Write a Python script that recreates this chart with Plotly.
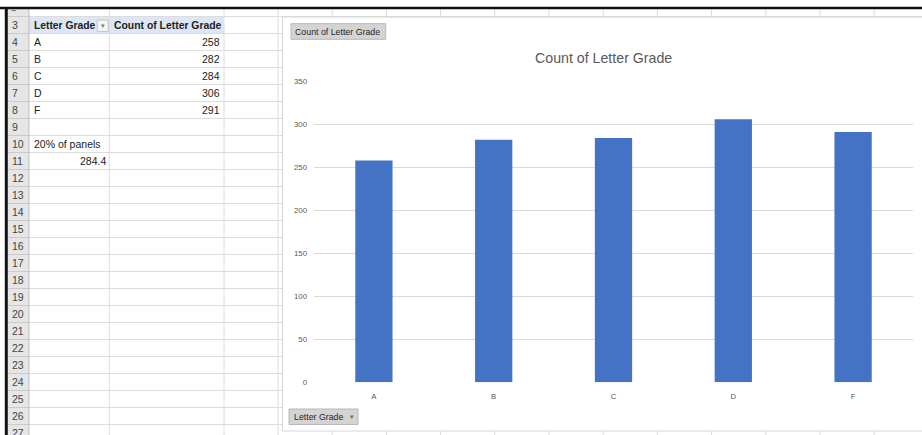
import plotly.graph_objects as go

# ---- data ----
grades = ["A", "B", "C", "D", "F"]
counts = [258, 282, 284, 306, 291]
header_labels = ["Letter Grade", "Count of Letter Grade"]
note_label = "20% of panels"
note_value = "284.4"
y_ticks = [0, 50, 100, 150, 200, 250, 300, 350]
row_numbers = list(range(3, 28))
chart_title = "Count of Letter Grade"
value_button = "Count of Letter Grade"
axis_button = "Letter Grade"

W, H = 922, 435
FONT = "Liberation Sans, Arial, sans-serif"


def X(px):
    return px / W


def Y(py):
    return 1 - py / H


def row_center(n):
    return 25 + (n - 3) * 17


shapes = []
annotations = []


def rect(x0, y0, x1, y1, fill, line=None, lw=1, layer="below"):
    shapes.append(dict(type="rect", xref="paper", yref="paper",
                       x0=X(x0), x1=X(x1), y0=Y(y1), y1=Y(y0),
                       fillcolor=fill, layer=layer,
                       line=dict(color=line or fill, width=lw if line else 0)))


def line(x0, y0, x1, y1, color, lw=1, layer="below"):
    shapes.append(dict(type="line", xref="paper", yref="paper",
                       x0=X(x0), x1=X(x1), y0=Y(y0), y1=Y(y1), layer=layer,
                       line=dict(color=color, width=lw)))


def text(s, x, y, anchor="left", size=10.5, color="#222222"):
    annotations.append(dict(text=s, x=X(x), y=Y(y), xref="paper", yref="paper",
                            xanchor=anchor, yanchor="middle", showarrow=False,
                            font=dict(family=FONT, size=size, color=color)))


# ---- spreadsheet grid ----
GRID = "#dcdcdc"
col_lines = [109.3, 224, 278] + [278 + 54.2 * k for k in range(1, 12)]
# row header background
rect(8, 9, 29, 440, "#e6e6e6")
# pivot header row background
rect(29, 16.5, 224, 33.5, "#dde6f4")
for n in range(2, 28):
    yb = row_center(n) + 8.5
    line(8, yb, 29, yb, "#cbcbcb")
    line(29, yb, W, yb, GRID)
for cx in col_lines:
    line(cx, 9, cx, 440, GRID)
line(29, 9, 29, 440, "#bdbdbd")
# partial row "2" label remnant
line(11.5, 10.6, 16, 10.6, "#777777", lw=1)

# dropdown box in pivot header
rect(97.2, 20, 108.3, 31.5, "#f4f4f4", line="#c4c4c4")
text("▾", 102.8, 25.5, anchor="center", size=7, color="#7a7a7a")

# row numbers
for n in row_numbers:
    text(str(n), 10, row_center(n), size=10.5, color="#444444")

# pivot table content
text("<b>" + header_labels[0] + "</b>", 32, row_center(3), size=10.3)
text("<b>" + header_labels[1] + "</b>", 112, row_center(3), size=10.4)
for i, (g, c) in enumerate(zip(grades, counts)):
    text(g, 32, row_center(4 + i))
    text(str(c), 221.5, row_center(4 + i), anchor="right")
text(note_label, 32, row_center(10))
text(note_value, 107.5, row_center(11), anchor="right")

# ---- chart area ----
rect(282.5, 17, 940, 431, "#ffffff", line="#d6d6d6")
# field buttons
rect(291, 23.7, 385.7, 39.3, "#d4d4d4", line="#b8b8b8")
text(value_button, 293.3, 31.7, size=8.8, color="#262626")
rect(289, 409, 358, 424.5, "#d4d4d4", line="#b8b8b8")
text(axis_button, 292, 416.7, size=8.8, color="#262626")
text("▾", 351.5, 416.5, anchor="center", size=7, color="#666666")
# title
text(chart_title, 603.8, 57.5, anchor="center", size=14.2, color="#595959")

# black screenshot frame
line(0, 8, W, 8, "#111111", lw=2.5, layer="above")
line(6.3, 8, 6.3, H + 5, "#111111", lw=3, layer="above")

fig = go.Figure(go.Bar(x=grades, y=counts, marker=dict(color="#4472C4", line=dict(width=0))))

fig.update_layout(
    template="none",
    width=W, height=H,
    margin=dict(l=0, r=0, t=0, b=0),
    paper_bgcolor="#ffffff", plot_bgcolor="rgba(0,0,0,0)",
    showlegend=False,
    bargap=0.689,
    font=dict(family=FONT, color="#595959"),
    shapes=shapes,
    annotations=annotations,
    xaxis=dict(domain=[X(314), X(913)], range=[-0.5, 4.5], showgrid=False,
               zeroline=False, showline=False, ticks="",
               tickfont=dict(size=7.8, color="#595959"), ticklabelstandoff=8),
    yaxis=dict(domain=[Y(382.3), Y(81.3)], range=[0, 350], tickvals=y_ticks,
               showgrid=True, gridcolor="#d9d9d9", gridwidth=1,
               zeroline=False, showline=False, ticks="",
               tickfont=dict(size=7.8, color="#595959"), ticklabelstandoff=6),
)

fig.write_html("out.html")
